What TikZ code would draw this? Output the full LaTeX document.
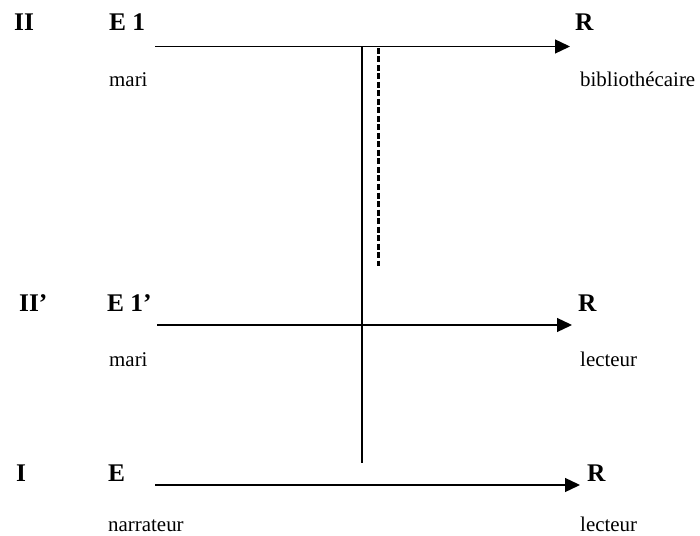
\documentclass[tikz,border=0pt]{standalone}
\usepackage{fontspec}
\setmainfont{Liberation Serif}
\usetikzlibrary{arrows.meta}
\begin{document}
\begin{tikzpicture}[x=1bp,y=-1bp,
  big/.style={inner sep=0pt,anchor=base west,font=\fontsize{25.5}{30}\selectfont\bfseries},
  small/.style={inner sep=0pt,anchor=base west,font=\fontsize{21}{24}\selectfont},
  comm/.style={line width=1.3bp,-{Triangle[length=15bp,width=14bp]}},
  rule/.style={line width=1.3bp},
  dashrule/.style={line width=2.4bp,dash pattern=on 6bp off 2.5bp}]
\useasboundingbox (0,0) rectangle (700,536);
% row II
\node[big] (l2) at (14,31) {II};
\node[big] (e1) at (109,31) {E 1};
\node[big] (r1) at (575,31) {R};
\node[small] (m1) at (109,87) {mari};
\node[small] (b1) at (580,87) {biblioth\'ecaire};
\coordinate (a1s) at (155,46.5);
\coordinate (a1e) at (570,46.5);
\draw[comm] (a1s) -- (a1e);
% row II'
\node[big] (l2p) at (19,311) {II’};
\node[big] (e1p) at (107,311) {E 1’};
\node[big] (r2) at (578,311) {R};
\node[small] (m2) at (109,366) {mari};
\node[small] (c2) at (580,366) {lecteur};
\coordinate (a2s) at (157,325);
\coordinate (a2e) at (572,325);
\draw[comm] (a2s) -- (a2e);
% row I
\node[big] (l1) at (16,481) {I};
\node[big] (e0) at (108,481) {E};
\node[big] (r3) at (587,481) {R};
\node[small] (n3) at (108,531) {narrateur};
\node[small] (c3) at (580,531) {lecteur};
\coordinate (a3s) at (155,485);
\coordinate (a3e) at (580,485);
\draw[comm] (a3s) -- (a3e);
% verticals
\coordinate (vtop) at (362,46.5);
\coordinate (vbot) at (362,463);
\draw[rule] (vtop) -- (vbot);
\coordinate (dtop) at (378.5,48);
\coordinate (dbot) at (378.5,266);
\draw[dashrule] (dtop) -- (dbot);
\end{tikzpicture}
\end{document}
